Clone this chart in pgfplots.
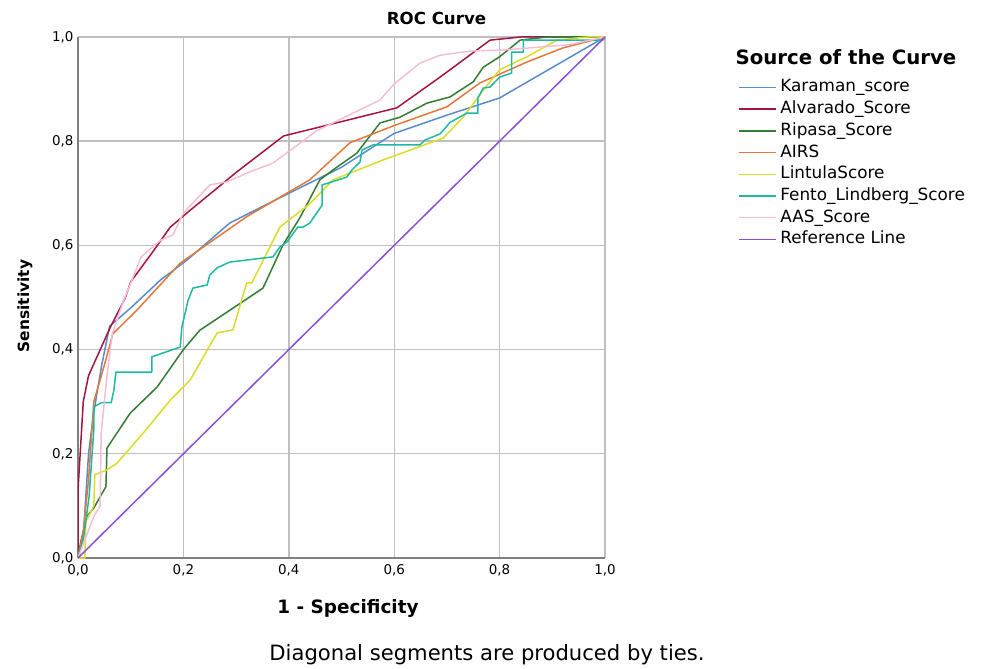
\documentclass[border=0pt]{standalone}
\usepackage{pgfplots}
\pgfplotsset{compat=1.18}
\usepackage{fontspec}
\setmainfont{DejaVu Sans}
\definecolor{cKar}{RGB}{88,140,205}
\definecolor{cAlv}{RGB}{165,20,65}
\definecolor{cRip}{RGB}{50,125,50}
\definecolor{cAIRS}{RGB}{225,120,60}
\definecolor{cLin}{RGB}{220,220,40}
\definecolor{cFen}{RGB}{30,185,165}
\definecolor{cAAS}{RGB}{245,190,215}
\definecolor{cRef}{RGB}{140,80,215}
\begin{document}
\begin{tikzpicture}
\useasboundingbox (-78bp,-111bp) rectangle (906bp,558bp);
\begin{axis}[
  at={(0,0)}, anchor=south west,
  width=527bp, height=521bp, scale only axis,
  xmin=0, xmax=1, ymin=0, ymax=1,
  xtick={0,0.2,0.4,0.6,0.8,1}, ytick={0,0.2,0.4,0.6,0.8,1},
  grid=major,
  grid style={draw=black!25, line width=1.4bp},
  axis x line*=bottom, axis y line*=left,
  axis line style={draw=black!50, line width=1.7bp, -},
  major tick length=0pt,
  /pgf/number format/.cd, use comma, fixed, fixed zerofill, precision=1, assume math mode=true,
  /pgfplots/.cd,
  ticklabel style={font=\fontsize{13.5}{15}\selectfont},
  xticklabel style={yshift=-3bp},
  yticklabel style={xshift=-1bp},
  every axis plot/.append style={line width=1.5bp, line join=round},
  legend style={at={(1.252,0.918)}, anchor=north west, draw=none, fill=none,
    font=\fontsize{16.9}{18}\selectfont, inner sep=0pt, row sep=6.7bp, column sep=4bp,
    nodes={inner sep=0pt, text height=12bp, text depth=3bp, anchor=west}},
  legend cell align=left,
  legend image code/.code={\draw[#1, line width=1.4bp] (0bp,0bp) -- (37bp,0bp);},
]
\addplot[cKar] coordinates {(0,0) (0.01,0.04) (0.02,0.2) (0.03,0.28) (0.045,0.37) (0.06,0.445) (0.10,0.48) (0.157,0.534) (0.207,0.572) (0.288,0.643) (0.40,0.70) (0.50,0.75) (0.60,0.815) (0.70,0.85) (0.80,0.883) (1,1)};
\addlegendentry{Karaman\_score}
\addplot[cAlv] coordinates {(0,0) (0,0.13) (0.01,0.30) (0.02,0.35) (0.06,0.44) (0.09,0.50) (0.10,0.53) (0.14,0.585) (0.175,0.635) (0.21,0.665) (0.30,0.74) (0.39,0.81) (0.605,0.864) (0.687,0.923) (0.782,0.994) (0.84,1.0) (1,1)};
\addlegendentry{Alvarado\_Score}
\addplot[cRip] coordinates {(0,0) (0.005,0.03) (0.017,0.08) (0.03,0.096) (0.053,0.137) (0.055,0.211) (0.099,0.278) (0.15,0.328) (0.2,0.40) (0.231,0.437) (0.351,0.518) (0.389,0.601) (0.421,0.653) (0.459,0.726) (0.491,0.75) (0.529,0.777) (0.573,0.835) (0.611,0.846) (0.662,0.873) (0.706,0.885) (0.75,0.914) (0.769,0.942) (0.80,0.962) (0.839,0.994) (0.89,1.0) (1,1)};
\addlegendentry{Ripasa\_Score}
\addplot[cAIRS] coordinates {(0,0) (0.01,0.05) (0.02,0.15) (0.03,0.30) (0.05,0.37) (0.066,0.43) (0.112,0.476) (0.194,0.566) (0.32,0.655) (0.44,0.726) (0.516,0.797) (0.60,0.83) (0.70,0.866) (0.763,0.912) (0.852,0.952) (0.92,0.979) (1,1)};
\addlegendentry{AIRS}
\addplot[cLin] coordinates {(0,0) (0.013,0.0) (0.015,0.07) (0.03,0.10) (0.032,0.16) (0.055,0.169) (0.074,0.182) (0.093,0.204) (0.129,0.246) (0.175,0.303) (0.213,0.342) (0.264,0.432) (0.294,0.438) (0.32,0.528) (0.33,0.528) (0.383,0.635) (0.44,0.68) (0.484,0.726) (0.579,0.764) (0.693,0.806) (0.731,0.846) (0.769,0.898) (0.80,0.937) (0.852,0.962) (0.909,0.994) (0.966,1.0) (1,1)};
\addlegendentry{LintulaScore}
\addplot[cFen] coordinates {(0,0) (0.01,0.035) (0.021,0.117) (0.03,0.246) (0.03,0.29) (0.044,0.298) (0.063,0.298) (0.068,0.322) (0.072,0.357) (0.14,0.357) (0.14,0.386) (0.194,0.405) (0.197,0.443) (0.209,0.495) (0.218,0.518) (0.245,0.524) (0.25,0.543) (0.264,0.557) (0.288,0.568) (0.37,0.578) (0.383,0.597) (0.397,0.607) (0.417,0.635) (0.427,0.635) (0.44,0.643) (0.463,0.677) (0.463,0.716) (0.51,0.731) (0.52,0.745) (0.535,0.76) (0.539,0.783) (0.56,0.793) (0.649,0.793) (0.658,0.802) (0.687,0.814) (0.706,0.836) (0.738,0.854) (0.759,0.854) (0.759,0.883) (0.769,0.902) (0.782,0.904) (0.80,0.923) (0.823,0.931) (0.823,0.971) (0.845,0.971) (0.845,0.994) (0.996,0.994) (1,1)};
\addlegendentry{Fento\_Lindberg\_Score}
\addplot[cAAS] coordinates {(0,0) (0.03,0.08) (0.042,0.10) (0.044,0.24) (0.055,0.35) (0.065,0.43) (0.085,0.49) (0.12,0.578) (0.157,0.61) (0.18,0.62) (0.2,0.662) (0.25,0.716) (0.283,0.722) (0.326,0.741) (0.37,0.758) (0.453,0.82) (0.573,0.879) (0.60,0.91) (0.649,0.95) (0.687,0.965) (0.744,0.973) (0.806,0.975) (0.93,0.985) (1,1)};
\addlegendentry{AAS\_Score}
\addplot[cRef] coordinates {(0,0) (1,1)};
\addlegendentry{Reference Line}
\end{axis}
\node[font=\bfseries\fontsize{16.7}{20}\selectfont] at (358.5bp,540bp) {ROC Curve};
\node[font=\bfseries\fontsize{15.5}{18}\selectfont, rotate=90] at (-53bp,252bp) {Sensitivity};
\node[font=\bfseries\fontsize{18.5}{22}\selectfont] at (270bp,-50bp) {1 - Specificity};
\node[font=\fontsize{21.2}{24}\selectfont] at (409bp,-97bp) {Diagonal segments are produced by ties.};
\node[font=\bfseries\fontsize{19.8}{23}\selectfont] at (768bp,501bp) {Source of the Curve};
\end{tikzpicture}
\end{document}
